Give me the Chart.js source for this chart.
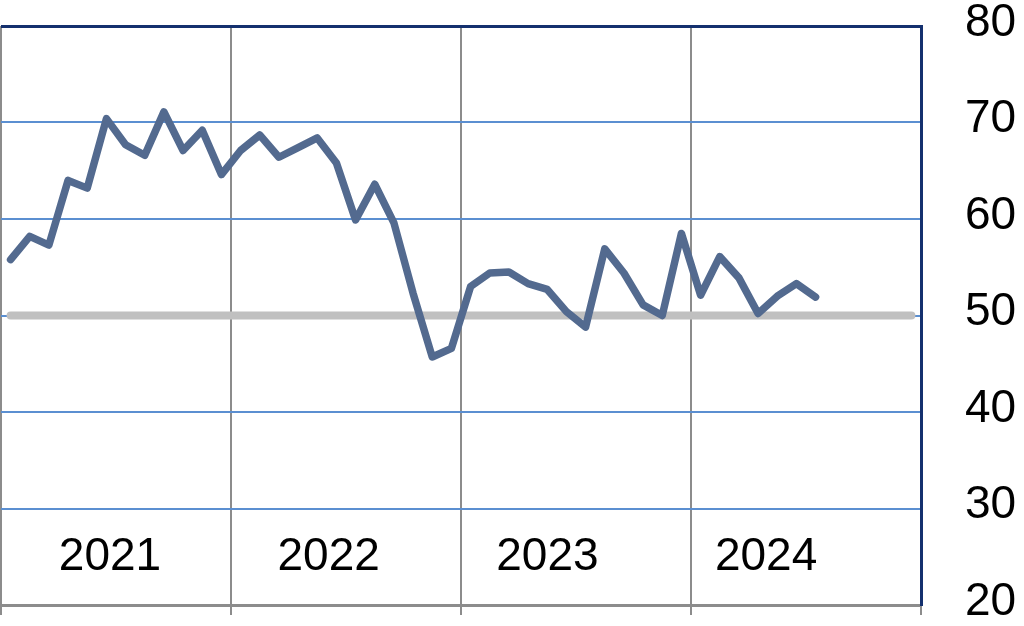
<!DOCTYPE html>
<html>
<head>
<meta charset="utf-8">
<script src="https://cdn.jsdelivr.net/npm/chart.js@4.4.1/dist/chart.umd.min.js"></script>
<style>
  html, body { margin: 0; padding: 0; background: #fff; }
  #wrap { width: 1024px; height: 626px; }
</style>
</head>
<body>
<div id="wrap"><canvas id="grafico"></canvas></div>
<script>
const anos = ['2021', '2022', '2023', '2024'];
const meses = ['Jan', 'Feb', 'Mar', 'Apr', 'May', 'Jun', 'Jul', 'Aug', 'Sep', 'Oct', 'Nov', 'Dec'];

// monthly index, Jan 2021 .. Jul 2024
const indice = [
  55.8, 58.2, 57.3, 64.0, 63.2, 70.4, 67.7, 66.6, 71.1, 67.1, 69.2, 64.6,
  67.1, 68.7, 66.4, 67.4, 68.4, 65.8, 59.9, 63.6, 59.6, 52.3, 45.7, 46.6,
  53.0, 54.4, 54.5, 53.3, 52.7, 50.4, 48.8, 56.9, 54.4, 51.1, 50.0, 58.5,
  52.1, 56.1, 53.9, 50.2, 52.0, 53.3, 51.9
];
const referencia = 50;
const yTicks = [20, 30, 40, 50, 60, 70, 80];

const rotulos = [];
anos.forEach(a => meses.forEach(m => rotulos.push(m + ' ' + a)));
const linhaRef = rotulos.map(() => referencia);

const fonte = '"Liberation Sans", Arial, sans-serif';

const rotulosAno = {
  id: 'rotulosAno',
  afterDraw(chart) {
    const ctx = chart.ctx;
    const x = chart.scales.x;
    ctx.save();
    ctx.fillStyle = '#000';
    ctx.font = '46px ' + fonte;
    ctx.textAlign = 'center';
    ctx.textBaseline = 'middle';
    anos.forEach((ano, i) => {
      ctx.fillText(ano, x.getPixelForDecimal(0.1185 + i * 0.2377), chart.chartArea.bottom - 48);
    });
    ctx.restore();
  }
};

const grafico = new Chart(document.getElementById('grafico'), {
  type: 'line',
  data: {
    labels: rotulos,
    datasets: [{
      label: 'Índice',
      data: indice,
      borderColor: '#536a8f',
      borderWidth: 7.5,
      borderJoinStyle: 'round',
      borderCapStyle: 'round',
      pointRadius: 0,
      tension: 0
    }, {
      label: '50',
      data: linhaRef,
      borderColor: '#c0c0c0',
      borderWidth: 8,
      borderCapStyle: 'round',
      pointRadius: 0,
      tension: 0
    }]
  },
  options: {
    responsive: true,
    maintainAspectRatio: false,
    animation: false,
    layout: { padding: { top: 26, left: 1, right: 0, bottom: 0 } },
    plugins: { legend: { display: false }, tooltip: { enabled: false } },
    scales: {
      x: {
        type: 'category',
        offset: true,
        grid: {
          offset: true,
          color: ctx => (ctx.index === undefined || ctx.index % 12 === 0) ? '#8c8c8c' : 'rgba(0,0,0,0)',
          lineWidth: 2,
          drawTicks: true,
          tickLength: 10
        },
        border: { color: '#8c8c8c', width: 3 },
        ticks: { display: false },
        afterFit: s => { s.height = 21; }
      },
      y: {
        position: 'right',
        min: 20,
        max: 80,
        afterBuildTicks: s => { s.ticks = yTicks.map(v => ({ value: v })); },
        grid: {
          drawTicks: false,
          color: ctx => {
            if (ctx.tick.value === 80) return '#14306e';
            if (ctx.tick.value === 20) return 'rgba(0,0,0,0)';
            return '#5b8fd1';
          },
          lineWidth: ctx => ctx.tick.value === 80 ? 3 : 2
        },
        border: { color: '#14306e', width: 3 },
        ticks: {
          color: '#000',
          font: { family: fonte, size: 46 },
          padding: 44,
          labelOffset: -3
        },
        afterFit: s => { s.width = 103; s.paddingTop = 0; s.paddingBottom = 0; }
      }
    }
  },
  plugins: [rotulosAno]
});
</script>
</body>
</html>
